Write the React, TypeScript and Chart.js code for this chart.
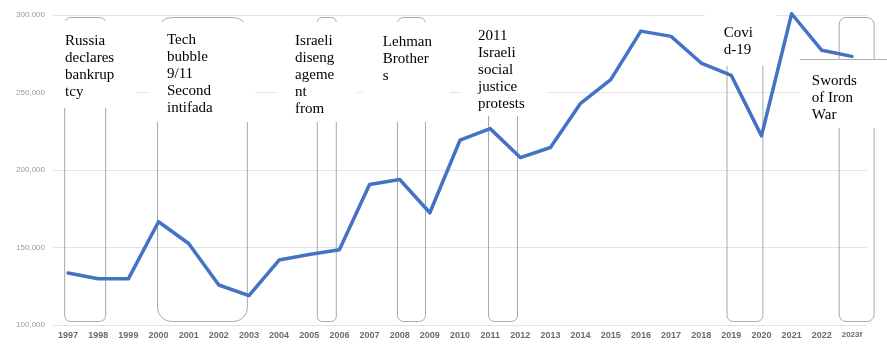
import React, { useEffect, useRef } from 'react';
import { Chart, registerables } from 'chart.js';

Chart.register(...registerables);

const years = ['1997','1998','1999','2000','2001','2002','2003','2004','2005','2006','2007','2008','2009','2010','2011','2012','2013','2014','2015','2016','2017','2018','2019','2020','2021','2022','2023f'];
const prices = [133500,129800,129800,166600,152600,125800,118900,141900,145500,148600,190600,193900,172400,219200,226700,208000,214500,243000,258300,289600,286200,269000,261000,222000,300800,277200,273300];
const yMin = 100000;
const yMax = 300000;
const yStep = 50000;

const eventTexts = [
  ['Russia', 'declares', 'bankrup', 'tcy'],
  ['Tech', 'bubble', '9/11', 'Second', 'intifada'],
  ['Israeli', 'diseng', 'ageme', 'nt', 'from'],
  ['Lehman', 'Brother', 's'],
  ['2011', 'Israeli', 'social', 'justice', 'protests'],
  ['Covi', 'd-19'],
  ['Swords', 'of Iron', 'War'],
];

// layout of the annotation overlays (x in category-index units, y in px from chart top)
const eventLayout = [
  { rect: [-0.13, 1.23], r: 6, box: [-0.53, 2.25], boxY: [6, 93], textX: -0.1, textY: 30, border: false },
  { rect: [2.95, 5.93], r: 14, box: [2.65, 6.2], boxY: [7, 107], textX: 3.28, textY: 28.5, border: false },
  { rect: [8.25, 8.88], r: 5, box: [6.9, 9.58], boxY: [7, 107], textX: 7.53, textY: 30, border: false },
  { rect: [10.91, 11.84], r: 6, box: [9.78, 12.67], boxY: [7, 107], textX: 10.44, textY: 31, border: false },
  { rect: [13.93, 14.89], r: 6, box: [13.0, 15.88], boxY: [1, 101], textX: 13.6, textY: 25, border: false },
  { rect: [21.84, 23.03], r: 6, box: [21.12, 23.51], boxY: [-3, 51], textX: 21.75, textY: 21.5, border: false },
  { rect: [25.56, 26.72], r: 7, box: [24.27, 27.16], boxY: [44, 113], textX: 24.67, textY: 70, border: true },
];

const eventsPlugin = {
  id: 'eventsOverlay',
  beforeDatasetsDraw(chart: any) {
    const { ctx, chartArea } = chart;
    const x = chart.scales.x;
    const px = (v: number) => x.getPixelForValue(v);
    ctx.save();
    // rounded outline rectangles
    eventLayout.forEach((l) => {
      const x0 = px(l.rect[0]);
      const x1 = px(l.rect[1]);
      const y0 = chartArea.top + 2;
      const y1 = chartArea.bottom - 4;
      ctx.beginPath();
      ctx.roundRect(x0 + 0.5, y0 + 0.5, x1 - x0, y1 - y0, l.r);
      ctx.strokeStyle = '#a8a8a8';
      ctx.lineWidth = 1;
      ctx.stroke();
    });
    // white text boxes + text
    eventLayout.forEach((l, i) => {
      const x0 = px(l.box[0]);
      const x1 = px(l.box[1]);
      const y0 = chartArea.top + l.boxY[0];
      const y1 = chartArea.top + l.boxY[1];
      ctx.fillStyle = '#ffffff';
      ctx.fillRect(x0, y0, x1 - x0, y1 - y0);
      if (l.border) {
        ctx.beginPath();
        ctx.moveTo(x0, Math.round(y0) + 0.5);
        ctx.lineTo(x1, Math.round(y0) + 0.5);
        ctx.strokeStyle = '#b0b0b0';
        ctx.lineWidth = 1;
        ctx.stroke();
      }
      ctx.fillStyle = '#000000';
      ctx.font = '15px "Liberation Serif", "Times New Roman", serif';
      ctx.textAlign = 'left';
      ctx.textBaseline = 'alphabetic';
      eventTexts[i].forEach((t, j) => {
        ctx.fillText(t, px(l.textX), chartArea.top + l.textY + j * 17);
      });
    });
    ctx.restore();
  },
};

export default function App() {
  const canvasRef = useRef<HTMLCanvasElement | null>(null);

  useEffect(() => {
    const canvas = canvasRef.current;
    if (!canvas) return;
    const chart = new Chart(canvas, {
      type: 'line',
      data: {
        labels: years,
        datasets: [
          {
            data: prices,
            borderColor: 'rgb(68,114,196)',
            backgroundColor: 'rgb(68,114,196)',
            borderWidth: 3.5,
            pointRadius: 0,
            pointHoverRadius: 0,
            tension: 0,
            clip: false as any,
            borderJoinStyle: 'round',
            borderCapStyle: 'round',
          },
        ],
      },
      options: {
        responsive: false,
        animation: false,
        layout: { padding: { top: 15, right: 20, left: 0, bottom: 0 } },
        plugins: {
          legend: { display: false },
          tooltip: { enabled: false },
          title: { display: false },
        },
        scales: {
          x: {
            offset: true,
            grid: { display: false, drawTicks: false },
            border: { display: false },
            ticks: {
              autoSkip: false,
              maxRotation: 0,
              padding: 5,
              color: '#6b6b6b',
              font: (c: any) => ({
                family: '"Liberation Sans", Arial, sans-serif',
                size: c.index === years.length - 1 ? 8 : 9,
                weight: 'bold',
              }),
            },
            afterFit: (s: any) => {
              s.height = 28;
            },
          },
          y: {
            min: yMin,
            max: yMax,
            grid: { color: '#e3e3e3', drawTicks: false, lineWidth: 1 },
            border: { display: false },
            ticks: {
              stepSize: yStep,
              padding: 8,
              color: '#9a9a9a',
              font: { family: '"Liberation Sans", Arial, sans-serif', size: 8 },
              callback: (v: any) => Number(v).toLocaleString('en-US'),
            },
            afterFit: (s: any) => {
              s.width = 53;
            },
          },
        },
      },
      plugins: [eventsPlugin],
    });
    return () => chart.destroy();
  }, []);

  return (
    <div style={{ position: 'fixed', left: 0, top: 0, width: 887, height: 353, background: '#fff' }}>
      <canvas ref={canvasRef} width={887} height={353} style={{ display: 'block' }} />
    </div>
  );
}
